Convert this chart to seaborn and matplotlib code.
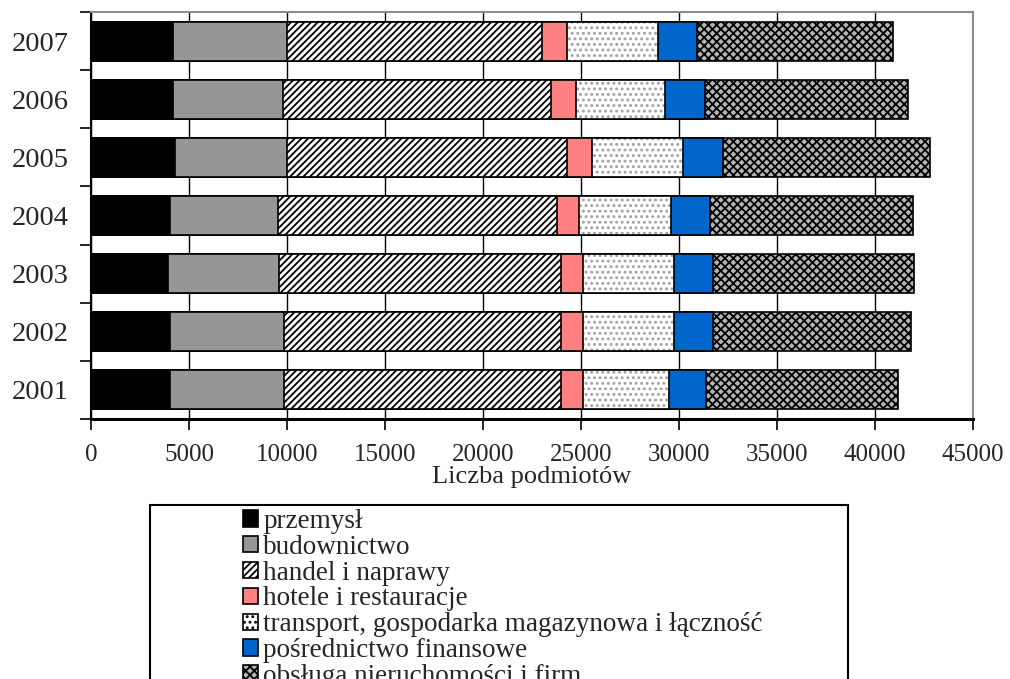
import matplotlib
matplotlib.use("Agg")
import matplotlib.pyplot as plt
from matplotlib.patches import Patch, Rectangle
import numpy as np
import pandas as pd
import seaborn as sns

# ---- data ----
years = ['2001', '2002', '2003', '2004', '2005', '2006', '2007']
przemysl = [4030, 4030, 3930, 4030, 4290, 4170, 4170]
budownictwo = [5830, 5820, 5680, 5510, 5690, 5630, 5810]
handel = [14100, 14110, 14350, 14220, 14290, 13670, 13050]
hotele = [1130, 1130, 1130, 1160, 1290, 1280, 1240]
transport = [4420, 4670, 4670, 4660, 4640, 4550, 4640]
posrednictwo = [1870, 1990, 1990, 2000, 2060, 2010, 2010]
obsluga = [9810, 10070, 10240, 10340, 10540, 10390, 9980]

series_names = ['przemysł', 'budownictwo', 'handel i naprawy', 'hotele i restauracje',
                'transport, gospodarka magazynowa i łączność', 'pośrednictwo finansowe',
                'obsługa nieruchomości i firm']
series_values = [przemysl, budownictwo, handel, hotele, transport, posrednictwo, obsluga]
x_ticks = [0, 5000, 10000, 15000, 20000, 25000, 30000, 35000, 40000, 45000]
x_label = 'Liczba podmiotów'

# styles
styles = [
    dict(face='#000000', hatch=None, hcol='black'),
    dict(face='#969696', hatch=None, hcol='black'),
    dict(face='#ffffff', hatch='/////', hcol='black'),
    dict(face='#ff8080', hatch=None, hcol='black'),
    dict(face='#ffffff', hatch='...', hcol='#a0a0a0'),
    dict(face='#0066cc', hatch=None, hcol='black'),
    dict(face='#b4b4b4', hatch='xxxx', hcol='black'),
]

sns.set_style('white')
plt.rcParams['font.family'] = ['Liberation Serif', 'DejaVu Serif']
plt.rcParams['hatch.linewidth'] = 1.3

df = pd.DataFrame({'rok': years})
for name, vals in zip(series_names, series_values):
    df[name] = vals
cum = df[series_names].cumsum(axis=1)
cum['rok'] = years

fig = plt.figure(figsize=(10.10, 6.79), dpi=100)
ax = fig.add_axes([91 / 1010, 1 - 419 / 679, (973 - 91) / 1010, (419 - 12) / 679])

order = years[::-1]
bw = 0.67
for i in range(len(series_names) - 1, -1, -1):
    st = styles[i]
    if st['hatch'] is not None and st['hcol'] != 'black':
        # hatch layer in its own colour, then black outline
        sns.barplot(data=cum, x=series_names[i], y='rok', order=order, orient='h',
                    width=bw, errorbar=None, color=st['face'], facecolor=st['face'],
                    edgecolor=st['hcol'], hatch=st['hatch'], linewidth=0, ax=ax)
        sns.barplot(data=cum, x=series_names[i], y='rok', order=order, orient='h',
                    width=bw, errorbar=None, fill=False, edgecolor='black',
                    linewidth=1.2, ax=ax)
    else:
        kw = dict(hatch=st['hatch']) if st['hatch'] else {}
        sns.barplot(data=cum, x=series_names[i], y='rok', order=order, orient='h',
                    width=bw, errorbar=None, color=st['face'], facecolor=st['face'],
                    edgecolor='black', linewidth=1.2, ax=ax, **kw)

ax.set_xlim(0, 45000)
ax.set_ylim(6.5, -0.5)
ax.set_xticks(x_ticks)
ax.set_xticklabels([str(t) for t in x_ticks], fontsize=18)
ax.set_yticks(range(len(order)))
ax.set_yticklabels(order, fontsize=20.5)
ax.set_yticks(np.arange(-0.5, len(order), 1.0), minor=True)
ax.tick_params(axis='y', which='major', length=0, pad=16)
ax.tick_params(axis='y', which='minor', direction='out', length=8, width=1.2, color='black', left=True)
ax.tick_params(axis='x', which='major', direction='out', length=8, width=1.2, color='black',
               bottom=True, pad=10)
ax.set_xlabel(x_label, fontsize=19, labelpad=0)
ax.set_ylabel('')
ax.xaxis.grid(True, color='black', linewidth=1.0)
ax.yaxis.grid(False)
ax.set_axisbelow(True)
for side in ['top', 'right']:
    ax.spines[side].set_visible(True)
    ax.spines[side].set_color('#8c8c8c')
    ax.spines[side].set_linewidth(1.5)
ax.spines['left'].set_color('black')
ax.spines['left'].set_linewidth(1.5)
ax.spines['bottom'].set_color('black')
ax.spines['bottom'].set_linewidth(2.2)

# legend box (frame extends beyond the bottom edge, as in the reference)
fig.patches.append(Rectangle((150 / 1010, -0.1), (848 - 150) / 1010, 0.1 + 1 - 505 / 679,
                             transform=fig.transFigure, fill=False, edgecolor='black',
                             linewidth=1.5, zorder=5))
handles = []
for name, st in zip(series_names, styles):
    handles.append(Patch(facecolor=st['face'], edgecolor='black', linewidth=1.2,
                         hatch=st['hatch'], label=name))
fig.legend(handles=handles, loc='upper left', bbox_to_anchor=(243 / 1010, 1 - 509 / 679),
           frameon=False, fontsize=19.5, borderpad=0, borderaxespad=0,
           handlelength=0.55, handleheight=0.55, handletextpad=0.2, labelspacing=0.03)

fig.savefig('out.png', dpi=100)
